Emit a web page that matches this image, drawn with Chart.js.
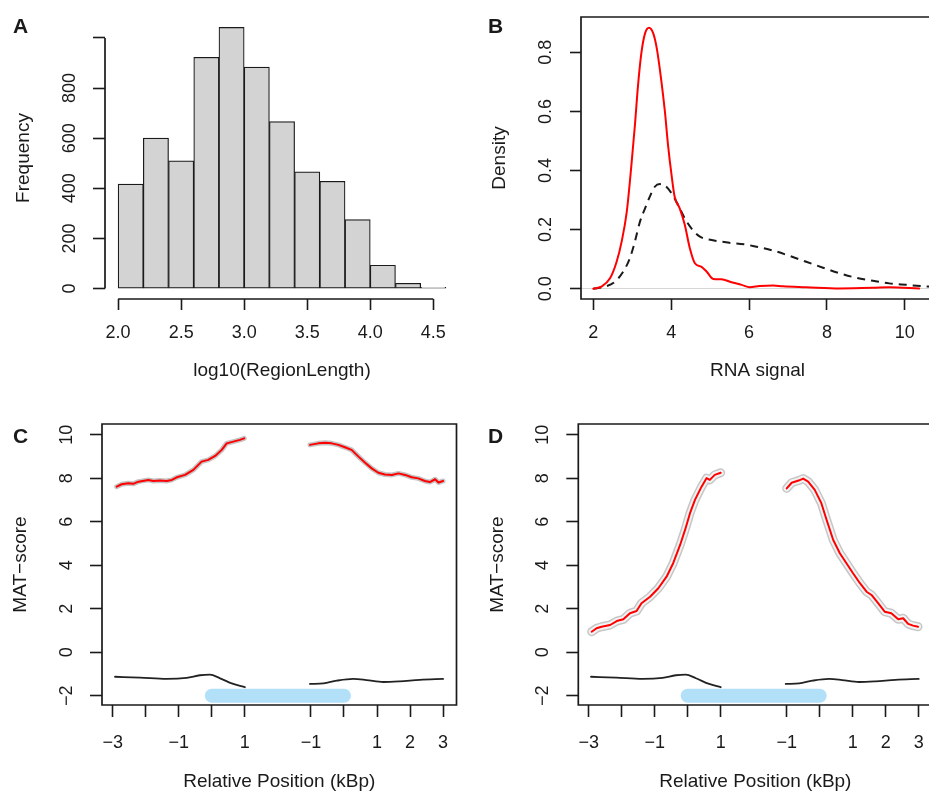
<!DOCTYPE html>
<html>
<head>
<meta charset="utf-8">
<script src="https://cdn.jsdelivr.net/npm/chart.js@4/dist/chart.umd.min.js"></script>
<style>
  html, body { margin: 0; padding: 0; background: #fff; overflow: hidden; width: 929px; height: 791px; }
  canvas { position: absolute; left: 0; top: 0; }
</style>
</head>
<body>
<canvas id="panelA" width="960" height="791"></canvas>
<canvas id="panelB" width="960" height="791"></canvas>
<canvas id="panelC" width="960" height="791"></canvas>
<canvas id="panelD" width="960" height="791"></canvas>
<script>
// ---- A: histogram of log10(RegionLength) ----
const binMids = [2.1, 2.3, 2.5, 2.7, 2.9, 3.1, 3.3, 3.5, 3.7, 3.9, 4.1, 4.3, 4.5];
const binCounts = [417, 600, 510, 923, 1042, 884, 666, 466, 428, 275, 93, 21, 5];
const histTicksX = [2.0, 2.5, 3.0, 3.5, 4.0, 4.5];
const histLabelsX = ['2.0', '2.5', '3.0', '3.5', '4.0', '4.5'];
const histTicksY = [0, 200, 400, 600, 800, 1000];
const histLabelsY = ['0', '200', '400', '600', '800', ''];

// ---- B: density of RNA signal ----
const rnaRedX = [2.0, 2.21, 2.43, 2.6, 2.73, 2.86, 2.98, 3.07, 3.15, 3.24, 3.33, 3.43, 3.54, 3.63, 3.74, 3.84, 3.92, 4.01, 4.09, 4.22, 4.35, 4.48, 4.61, 4.78, 4.91, 5.08, 5.29, 5.55, 5.81, 6.02, 6.27, 6.62, 6.87, 7.47, 8.33, 9.18, 9.6, 10.37];
const rnaRedDensity = [0.0, 0.007, 0.035, 0.091, 0.16, 0.26, 0.419, 0.554, 0.689, 0.802, 0.864, 0.883, 0.864, 0.814, 0.712, 0.599, 0.486, 0.385, 0.311, 0.272, 0.216, 0.137, 0.086, 0.074, 0.058, 0.033, 0.032, 0.022, 0.013, 0.005, 0.009, 0.011, 0.008, 0.005, 0.001, 0.003, 0.005, 0.001];
const rnaBlackX = [2.0, 2.3, 2.56, 2.77, 2.94, 3.07, 3.2, 3.33, 3.45, 3.58, 3.71, 3.84, 4.01, 4.18, 4.35, 4.52, 4.74, 5.04, 5.46, 5.89, 6.19, 6.62, 7.04, 7.47, 7.9, 8.33, 8.75, 9.18, 9.6, 10.04, 10.6, 10.9];
const rnaBlackDensity = [0.0, 0.007, 0.024, 0.058, 0.103, 0.16, 0.227, 0.272, 0.311, 0.345, 0.354, 0.349, 0.323, 0.283, 0.238, 0.204, 0.176, 0.165, 0.156, 0.15, 0.142, 0.129, 0.111, 0.091, 0.071, 0.052, 0.037, 0.027, 0.018, 0.013, 0.007, 0.005];
const rnaTicksX = [2, 4, 6, 8, 10];
const rnaLabelsX = ['2', '4', '6', '8', '10'];
const rnaTicksY = [0, 0.2, 0.4, 0.6, 0.8];
const rnaLabelsY = ['0.0', '0.2', '0.4', '0.6', '0.8'];

// ---- C / D: MAT-score profiles (x in plot units: 0..4 upstream, 6..10 downstream) ----
const cLeftPos = [0.12, 0.27, 0.47, 0.62, 0.78, 1.08, 1.23, 1.43, 1.63, 1.79, 1.94, 2.19, 2.44, 2.69, 2.89, 3.10, 3.30, 3.45, 3.65, 3.85, 3.98];
const cLeftScore = [7.61, 7.72, 7.77, 7.74, 7.84, 7.92, 7.87, 7.89, 7.87, 7.92, 8.04, 8.15, 8.38, 8.76, 8.84, 9.02, 9.3, 9.6, 9.68, 9.76, 9.83];
const cRightPos = [5.97, 6.22, 6.43, 6.63, 6.83, 7.03, 7.23, 7.44, 7.64, 7.84, 8.04, 8.24, 8.45, 8.65, 8.85, 9.05, 9.25, 9.45, 9.6, 9.76, 9.86, 10.0];
const cRightScore = [9.53, 9.6, 9.63, 9.6, 9.53, 9.42, 9.3, 8.99, 8.71, 8.45, 8.25, 8.17, 8.15, 8.22, 8.15, 8.04, 7.99, 7.87, 7.82, 7.95, 7.8, 7.87];
const dLeftPos = [0.09, 0.24, 0.39, 0.65, 0.85, 1.05, 1.25, 1.45, 1.6, 1.86, 2.11, 2.36, 2.56, 2.77, 2.92, 3.07, 3.22, 3.42, 3.57, 3.67, 3.82, 4.0];
const dLeftScore = [0.94, 1.1, 1.17, 1.25, 1.43, 1.51, 1.79, 1.89, 2.25, 2.55, 2.94, 3.47, 4.09, 4.93, 5.62, 6.39, 7.0, 7.61, 8.0, 7.92, 8.15, 8.25];
const dRightPos = [6.0, 6.15, 6.36, 6.5, 6.65, 6.85, 7.05, 7.21, 7.41, 7.61, 7.81, 8.01, 8.22, 8.42, 8.57, 8.77, 8.97, 9.17, 9.38, 9.53, 9.68, 9.83, 9.98];
const dRightScore = [7.53, 7.79, 7.89, 7.98, 7.84, 7.46, 6.85, 6.08, 5.16, 4.55, 4.09, 3.63, 3.17, 2.78, 2.63, 2.25, 1.86, 1.79, 1.51, 1.56, 1.3, 1.22, 1.17];
const ctrlLeftPos = [0.07, 0.83, 1.63, 2.24, 2.64, 2.94, 3.25, 3.65, 4.0];
const ctrlLeftScore = [-1.13, -1.17, -1.23, -1.18, -1.06, -1.03, -1.2, -1.46, -1.61];
const ctrlRightPos = [5.97, 6.38, 6.78, 7.28, 7.68, 8.19, 8.69, 9.3, 10.0];
const ctrlRightScore = [-1.46, -1.43, -1.31, -1.23, -1.28, -1.37, -1.34, -1.27, -1.23];
const regionPos = [3, 7];
const regionScore = [-2, -2];
const posTicks = [0, 1, 2, 3, 4, 6, 7, 8, 9, 10];
const posLabels = ['\u22123', '', '\u22121', '', '1', '\u22121', '', '1', '2', '3'];
const matTicks = [-2, 0, 2, 4, 6, 8, 10];
const matLabels = ['\u22122', '0', '2', '4', '6', '8', '10'];

const CANVAS_W = 960, CANVAS_H = 791;
const FONT = '"Liberation Sans", Arial, Helvetica, sans-serif';
const INK = '#1a1a1a';

// R-style axes: box / detached axis lines, rotated y labels, titles, panel letter
const rAxes = {
  id: 'rAxes',
  afterDraw(chart, args, o) {
    const ctx = chart.ctx, a = chart.chartArea;
    const xs = chart.scales.x, ys = chart.scales.y;
    ctx.save();
    ctx.strokeStyle = INK;
    ctx.lineWidth = 1.7;
    ctx.beginPath();
    if (o.box) {
      ctx.rect(a.left, a.top, a.right - a.left, a.bottom - a.top);
    } else {
      ctx.moveTo(xs.getPixelForValue(o.xTicks[0]), a.bottom);
      ctx.lineTo(xs.getPixelForValue(o.xTicks[o.xTicks.length - 1]), a.bottom);
      ctx.moveTo(a.left, ys.getPixelForValue(o.yTicks[0]));
      ctx.lineTo(a.left, ys.getPixelForValue(o.yTicks[o.yTicks.length - 1]));
    }
    ctx.stroke();

    ctx.fillStyle = INK;
    ctx.font = '18px ' + FONT;
    ctx.textAlign = 'center';
    ctx.textBaseline = 'alphabetic';
    o.xTicks.forEach((v, i) => {
      if (o.xLabels[i]) ctx.fillText(o.xLabels[i], xs.getPixelForValue(v), a.bottom + o.xLabelGap);
    });
    ctx.textBaseline = 'middle';
    o.yTicks.forEach((v, i) => {
      if (!o.yLabels[i]) return;
      ctx.save();
      ctx.translate(a.left - 35, ys.getPixelForValue(v));
      ctx.rotate(-Math.PI / 2);
      ctx.fillText(o.yLabels[i], 0, 0);
      ctx.restore();
    });

    ctx.font = '19px ' + FONT;
    ctx.textBaseline = 'alphabetic';
    ctx.fillText(o.xTitle, (a.left + a.right) / 2, a.bottom + o.xTitleGap);
    ctx.save();
    ctx.translate(a.left - 81, (a.top + a.bottom) / 2);
    ctx.rotate(-Math.PI / 2);
    ctx.textBaseline = 'middle';
    ctx.fillText(o.yTitle, 0, 0);
    ctx.restore();

    ctx.font = 'bold 21px ' + FONT;
    ctx.textAlign = 'left';
    ctx.fillText(o.letter, o.letterX, o.letterY);
    ctx.restore();
  }
};

function rScale(min, max, ticks, horizontal, tickLen, zeroLine) {
  return {
    type: 'linear', min, max, offset: false,
    afterBuildTicks: s => { s.ticks = ticks.map(v => ({ value: v })); },
    afterFit: s => {
      if (horizontal) s.height = 0; else s.width = 0;
      s.paddingLeft = s.paddingRight = s.paddingTop = s.paddingBottom = 0;
    },
    border: { display: false },
    grid: {
      offset: false, drawOnChartArea: !!zeroLine, drawTicks: true, tickLength: tickLen,
      color: c => (zeroLine && c.tick && c.tick.value === 0) ? '#d6d6d6' : 'rgba(0,0,0,0)',
      lineWidth: 1, tickColor: INK, tickWidth: 1.6
    },
    ticks: { display: false }
  };
}

function baseOptions(area, scales, axes) {
  return {
    responsive: false, animation: false, events: [],
    layout: { padding: { left: area.left, top: area.top, right: CANVAS_W - area.right, bottom: CANVAS_H - area.bottom } },
    plugins: { legend: { display: false }, tooltip: { enabled: false }, rAxes: axes },
    scales
  };
}

const series = (xs, ys) => xs.map((x, i) => ({ x, y: ys[i] }));
const line = (data, color, width, extra) => Object.assign({
  data, borderColor: color, borderWidth: width, pointRadius: 0, fill: false,
  tension: 0, borderJoinStyle: 'round', borderCapStyle: 'round'
}, extra || {});

// Panel A
new Chart(document.getElementById('panelA'), {
  type: 'bar',
  data: {
    datasets: [{
      data: series(binMids, binCounts),
      backgroundColor: '#d3d3d3', borderColor: INK, borderWidth: 1.2,
      borderSkipped: false, barPercentage: 1, categoryPercentage: 1
    }]
  },
  options: baseOptions({ left: 105, top: 17, right: 459, bottom: 299 }, {
    x: rScale(1.896, 4.704, histTicksX, true, 11),
    y: rScale(-41.7, 1083.7, histTicksY, false, 12)
  }, {
    box: false, xTicks: histTicksX, xLabels: histLabelsX, yTicks: histTicksY, yLabels: histLabelsY,
    xLabelGap: 39, xTitleGap: 77, xTitle: 'log10(RegionLength)', yTitle: 'Frequency',
    letter: 'A', letterX: 13, letterY: 33
  }),
  plugins: [rAxes]
});

// Panel B
new Chart(document.getElementById('panelB'), {
  type: 'line',
  data: {
    datasets: [
      line(series(rnaRedX, rnaRedDensity), '#ff0000', 2, { cubicInterpolationMode: 'monotone' }),
      line(series(rnaBlackX, rnaBlackDensity), INK, 2, { cubicInterpolationMode: 'monotone', borderDash: [8, 6], borderCapStyle: 'butt' })
    ]
  },
  options: baseOptions({ left: 581, top: 17, right: 934, bottom: 299 }, {
    x: rScale(1.685, 10.75, rnaTicksX, true, 11),
    y: rScale(-0.0349, 0.9195, rnaTicksY, false, 11, true)
  }, {
    box: true, xTicks: rnaTicksX, xLabels: rnaLabelsX, yTicks: rnaTicksY, yLabels: rnaLabelsY,
    xLabelGap: 39, xTitleGap: 77, xTitle: 'RNA signal', yTitle: 'Density',
    letter: 'B', letterX: 488, letterY: 33
  }),
  plugins: [rAxes]
});

// Panels C and D share layout; datasets listed top-most first
function profilePanel(id, area, xMin, xMax, leftPos, leftScore, rightPos, rightScore, halo, letter, letterX) {
  const red = '#ff0000';
  const sets = [
    line(series(leftPos, leftScore), red, 2),
    line(series(rightPos, rightScore), red, 2)
  ];
  if (halo.inner) {
    sets.push(line(series(leftPos, leftScore), halo.inner, halo.innerWidth));
    sets.push(line(series(rightPos, rightScore), halo.inner, halo.innerWidth));
  }
  sets.push(line(series(leftPos, leftScore), halo.outer, halo.outerWidth));
  sets.push(line(series(rightPos, rightScore), halo.outer, halo.outerWidth));
  sets.push(line(series(ctrlLeftPos, ctrlLeftScore), '#222', 1.8, { cubicInterpolationMode: 'monotone' }));
  sets.push(line(series(ctrlRightPos, ctrlRightScore), '#222', 1.8, { cubicInterpolationMode: 'monotone' }));
  sets.push(line(series(regionPos, regionScore), '#b2e0f8', 14));
  new Chart(document.getElementById(id), {
    type: 'line',
    data: { datasets: sets },
    options: baseOptions(area, {
      x: rScale(xMin, xMax, posTicks, true, 12),
      y: rScale(-2.428, 10.49, matTicks, false, 12)
    }, {
      box: true, xTicks: posTicks, xLabels: posLabels, yTicks: matTicks, yLabels: matLabels,
      xLabelGap: 43, xTitleGap: 82, xTitle: 'Relative Position (kBp)', yTitle: 'MAT\u2212score',
      letter, letterX, letterY: 443
    }),
    plugins: [rAxes]
  });
}

profilePanel('panelC', { left: 102, top: 424, right: 456.5, bottom: 705 }, -0.324, 10.406,
  cLeftPos, cLeftScore, cRightPos, cRightScore,
  { outer: '#c4c4c4', outerWidth: 5 }, 'C', 13);
profilePanel('panelD', { left: 578.3, top: 424, right: 932.4, bottom: 705 }, -0.315, 10.415,
  dLeftPos, dLeftScore, dRightPos, dRightScore,
  { outer: '#c6c6c6', outerWidth: 9, inner: '#f3f3f3', innerWidth: 6 }, 'D', 488);
</script>
</body>
</html>
